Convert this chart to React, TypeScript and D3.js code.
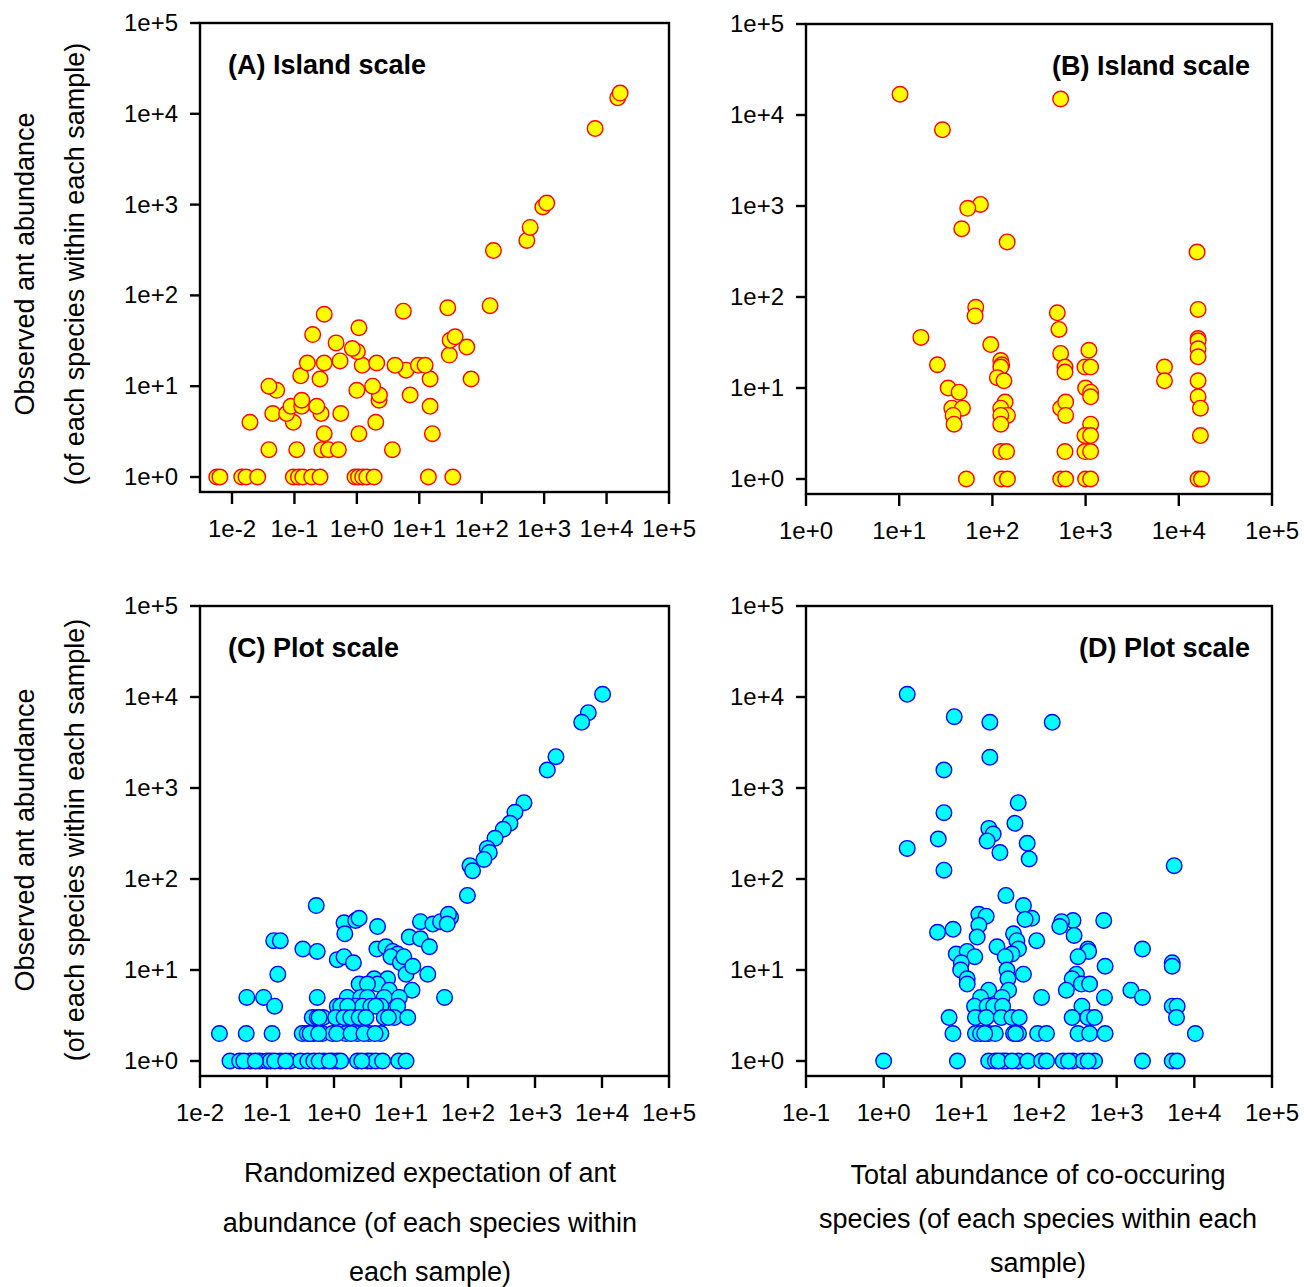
import React from "react";
import * as d3 from "d3";

// [expected or co-occurring abundance, observed abundance]
const islandExpected: [number, number][] = [
  [0.0057, 1], [0.0064, 1], [0.0143, 1], [0.0168, 1], [0.0258, 1], [0.096, 1], [0.116, 1], [0.136, 1],
  [0.189, 1], [0.257, 1], [0.935, 1], [1.06, 1], [1.24, 1], [1.44, 1], [1.89, 1], [14, 1], [34.4, 1],
  [0.039, 2], [0.109, 2], [0.274, 2], [0.35, 2], [0.506, 2], [3.71, 2],
  [0.3, 3], [1.08, 3], [16.2, 3],
  [0.0194, 4], [0.096, 4], [2.01, 4],
  [0.0449, 5], [0.075, 5], [0.267, 5], [0.552, 5],
  [0.088, 6], [0.131, 6], [0.228, 6], [14.9, 6],
  [0.131, 7], [2.27, 7], [2.3, 8], [7.13, 8], [0.052, 9], [1.0, 9], [0.039, 10], [1.79, 10],
  [0.257, 12], [14.9, 12], [67.6, 12], [0.126, 13], [6.14, 15],
  [1.22, 17], [4.09, 17], [9.68, 17], [12.4, 17], [0.161, 18], [0.3, 18], [2.08, 18], [0.538, 19],
  [30.3, 22], [1.02, 24], [0.847, 26], [57.7, 27], [0.465, 30], [31.2, 32], [37.5, 35], [0.196, 37],
  [1.08, 44], [0.3, 62], [5.56, 67], [28.6, 73], [136, 77],
  [154, 312], [528, 403], [597, 561], [953, 942], [1100, 1040], [6560, 6870], [15100, 15000], [16500, 16900],
];

const islandCooccur: [number, number][] = [
  [10.2, 16900], [540, 15000], [29.1, 6870], [74.4, 1040], [54.4, 942], [46.9, 561], [144, 403], [15700, 312],
  [66.3, 77], [65.2, 62], [17.1, 36], [25.7, 18], [33.5, 10], [44, 9], [36.7, 6], [47.7, 6], [37.9, 5],
  [38.8, 4], [52.6, 1], [96, 30],
  [123, 20], [126, 18], [123, 17], [113, 13], [133, 12], [137, 7], [123, 6], [145, 5], [123, 5], [123, 4],
  [123, 2], [142, 2], [126, 1], [145, 1],
  [497, 67], [518, 44], [540, 24], [601, 17], [601, 15], [540, 6], [611, 7], [611, 5], [601, 2], [540, 1], [611, 1],
  [1086, 26], [984, 17], [1132, 17], [1000, 10], [1132, 9], [1132, 8], [1132, 4], [984, 3], [1132, 3],
  [984, 2], [1132, 2], [1000, 1], [1132, 1],
  [7020, 17], [7020, 12],
  [16100, 73], [16100, 35], [16100, 33], [16100, 27], [16100, 22], [16100, 12], [16100, 8], [17060, 6],
  [17060, 3], [16100, 1], [17500, 1],
];

const plotExpected: [number, number][] = [
  [10200, 10700], [6250, 6720], [4980, 5270], [2055, 2210], [1527, 1577], [685, 689], [502, 541], [423, 409],
  [336, 352], [253, 280], [194, 217], [208, 195], [173, 164], [107, 140], [117, 123], [98, 66],
  [13.3, 23], [19.5, 34], [19.5, 22], [26.6, 18], [29.9, 32], [38.9, 34], [55, 38], [51, 41], [49, 32],
  [25.1, 9], [44.7, 5], [14.6, 6],
  [0.543, 51], [1.41, 33], [2.11, 35], [2.37, 37], [4.47, 30], [1.45, 25], [0.126, 21], [0.158, 21],
  [0.343, 17], [0.562, 16], [1.12, 13], [1.41, 14], [1.95, 12], [4.37, 17], [5.96, 18], [7.5, 16],
  [8.91, 15], [7.08, 14], [9.77, 12], [11, 14], [11.9, 9], [15, 11], [0.145, 9],
  [3.98, 8], [6.31, 8], [2.37, 7], [4.47, 7], [3.16, 7], [6.68, 6],
  [0.05, 5], [0.089, 5], [0.562, 5], [1.58, 5], [2.51, 5], [3.16, 5], [5.62, 5], [9.44, 5],
  [0.13, 4], [1.12, 4], [1.26, 4], [2.11, 4], [2.66, 4], [3.55, 4], [5.01, 4], [8.91, 4], [1.6, 4], [4.2, 4],
  [0.473, 3], [0.562, 3], [0.69, 3], [1.06, 3], [1.41, 3], [1.78, 3], [2.37, 3], [5.62, 3], [7.94, 3],
  [12.6, 3], [0.6, 3], [3.0, 3], [6.5, 3],
  [0.0195, 2], [0.049, 2], [0.119, 2], [0.335, 2], [0.398, 2], [0.5, 2], [0.668, 2], [0.944, 2], [1.5, 2],
  [2.24, 2], [3.35, 2], [5.01, 2], [0.44, 2], [0.59, 2], [1.1, 2], [1.8, 2], [2.8, 2], [4.1, 2],
  [0.028, 1], [0.039, 1], [0.056, 1], [0.078, 1], [0.1, 1], [0.112, 1], [0.158, 1], [0.224, 1], [0.316, 1],
  [0.407, 1], [0.5, 1], [0.708, 1], [0.944, 1], [1.12, 1], [1.26, 1], [2.24, 1], [3.16, 1], [3.55, 1],
  [4.22, 1], [5.31, 1], [9.23, 1], [11.9, 1], [0.045, 1], [0.067, 1], [0.13, 1], [0.19, 1], [0.6, 1],
  [0.85, 1], [2.6, 1],
];

const plotCooccur: [number, number][] = [
  [2.01, 10700], [8.1, 6080], [23.3, 5270], [148, 5270], [23.3, 2175], [5.97, 1577], [54, 689], [5.97, 535],
  [49, 409], [22.6, 360], [25.7, 312], [21.5, 262], [5.05, 275], [70.5, 247], [31.4, 195], [74.8, 166],
  [2.01, 217], [5.97, 125], [5500, 140],
  [37.5, 66], [63, 51], [16.8, 41], [20.9, 39], [80.5, 37], [66.2, 36], [274, 35], [682, 35], [195, 34],
  [16.8, 31], [185, 30], [7.83, 28], [4.94, 26], [47, 25], [283, 24], [16, 23], [51.9, 21], [93.4, 21],
  [28.8, 18], [54.4, 17], [426, 17], [2150, 17], [435, 16], [8.6, 15], [11.9, 16], [44.8, 15], [14.9, 14],
  [36.8, 14], [318, 14], [5190, 12], [5190, 11], [10, 12], [710, 11], [9.8, 10], [38.7, 10], [63, 9],
  [303, 9], [39.8, 8], [11.9, 8], [267, 8], [11.9, 7], [351, 7], [448, 7],
  [22.5, 6], [40.6, 6], [225, 6], [1524, 6], [17.7, 5], [33.4, 5], [108, 5], [696, 5], [2150, 5],
  [14.8, 4], [21.5, 4], [26.1, 4], [34, 4], [357, 4], [5190, 4], [6010, 4],
  [6.96, 3], [15.2, 3], [20.9, 3], [32.7, 3], [44.8, 3], [55.6, 3], [267, 3], [426, 3], [519, 3], [5890, 3],
  [7.8, 2], [15.2, 2], [17.7, 2], [22.5, 2], [27.4, 2], [47, 2], [54.4, 2], [96, 2], [125, 2], [318, 2],
  [448, 2], [710, 2], [10300, 2], [20, 2], [50, 2],
  [1, 1], [8.9, 1], [22.5, 1], [27.4, 1], [34, 1], [37.5, 1], [54.4, 1], [71.6, 1], [108, 1], [125, 1],
  [205, 1], [274, 1], [368, 1], [519, 1], [2150, 1], [5190, 1], [6010, 1], [30, 1], [45, 1], [240, 1], [430, 1],
];

const xTicksA = ["1e-2", "1e-1", "1e+0", "1e+1", "1e+2", "1e+3", "1e+4", "1e+5"];
const xTicksB = ["1e+0", "1e+1", "1e+2", "1e+3", "1e+4", "1e+5"];
const xTicksC = ["1e-2", "1e-1", "1e+0", "1e+1", "1e+2", "1e+3", "1e+4", "1e+5"];
const xTicksD = ["1e-1", "1e+0", "1e+1", "1e+2", "1e+3", "1e+4", "1e+5"];
const yTicks = ["1e+0", "1e+1", "1e+2", "1e+3", "1e+4", "1e+5"];

const yTitle = ["Observed ant abundance", "(of each species within each sample)"];
const xTitleLeft = ["Randomized expectation of ant", "abundance (of each species within", "each sample)"];
const xTitleRight = ["Total abundance of co-occuring", "species (of each species within each", "sample)"];

const FONT = "'Liberation Sans', Arial, Helvetica, sans-serif";

type PanelProps = {
  data: [number, number][];
  xTicks: string[];
  left: number;
  firstTick: number;
  right: number;
  top: number;
  base: number;
  bottom: number;
  title: string;
  titleAtRight: boolean;
  fill: string;
  stroke: string;
};

const Panel = (p: PanelProps) => {
  const x = d3.scaleLog()
    .domain([Number(p.xTicks[0]), Number(p.xTicks[p.xTicks.length - 1])])
    .range([p.firstTick, p.right]);
  const y = d3.scaleLog().domain([1, 1e5]).range([p.base, p.top]);

  return (
    <g>
      {/* points */}
      {p.data.map((d, i) => (
        <circle key={i} cx={x(d[0])} cy={y(d[1])} r={7.8}
          fill={p.fill} stroke={p.stroke} strokeWidth={1.4} />
      ))}

      {/* frame */}
      <rect x={p.left} y={p.top} width={p.right - p.left} height={p.bottom - p.top}
        fill="none" stroke="#000" strokeWidth={2.4} />

      {/* y axis */}
      {yTicks.map((t) => (
        <g key={t}>
          <line x1={p.left - 10} x2={p.left} y1={y(Number(t))} y2={y(Number(t))} stroke="#000" strokeWidth={2.4} />
          <text x={p.left - 22} y={y(Number(t)) + 8} textAnchor="end" fontSize={24} fontFamily={FONT}>{t}</text>
        </g>
      ))}

      {/* x axis */}
      {p.xTicks.map((t) => (
        <g key={t}>
          <line x1={x(Number(t))} x2={x(Number(t))} y1={p.bottom} y2={p.bottom + 12} stroke="#000" strokeWidth={2.4} />
          <text x={x(Number(t))} y={p.bottom + 45} textAnchor="middle" fontSize={24} fontFamily={FONT}>{t}</text>
        </g>
      ))}

      <text
        x={p.titleAtRight ? p.right - 22 : p.left + 28}
        y={p.top + 51}
        textAnchor={p.titleAtRight ? "end" : "start"}
        fontSize={27} fontWeight="bold" fontFamily={FONT}
      >
        {p.title}
      </text>
    </g>
  );
};

const YTitle = ({ cy }: { cy: number }) => (
  <g>
    {yTitle.map((line, i) => (
      <text key={i} transform={`translate(${34 + i * 50},${cy}) rotate(-90)`}
        textAnchor="middle" fontSize={27} fontFamily={FONT}>{line}</text>
    ))}
  </g>
);

const XTitle = ({ cx, lines, ys }: { cx: number; lines: string[]; ys: number[] }) => (
  <g>
    {lines.map((line, i) => (
      <text key={i} x={cx} y={ys[i]} textAnchor="middle" fontSize={27} fontFamily={FONT}>{line}</text>
    ))}
  </g>
);

export default function App() {
  return (
    <svg width={1304} height={1287} style={{ position: "absolute", left: 0, top: 0, background: "#fff" }}>
      <Panel data={islandExpected} xTicks={xTicksA} left={200} firstTick={232} right={669}
        top={23} base={477} bottom={492} title="(A) Island scale" titleAtRight={false}
        fill="#FFFF00" stroke="#FF0000" />
      <Panel data={islandCooccur} xTicks={xTicksB} left={806} firstTick={806} right={1272}
        top={24} base={479} bottom={494} title="(B) Island scale" titleAtRight={true}
        fill="#FFFF00" stroke="#FF0000" />
      <Panel data={plotExpected} xTicks={xTicksC} left={200} firstTick={200} right={669}
        top={606} base={1061} bottom={1076} title="(C) Plot scale" titleAtRight={false}
        fill="#00FFFF" stroke="#0000FF" />
      <Panel data={plotCooccur} xTicks={xTicksD} left={806} firstTick={806} right={1272}
        top={606} base={1061} bottom={1076} title="(D) Plot scale" titleAtRight={true}
        fill="#00FFFF" stroke="#0000FF" />

      <YTitle cy={264} />
      <YTitle cy={840} />
      <XTitle cx={430} lines={xTitleLeft} ys={[1182, 1232, 1281]} />
      <XTitle cx={1038} lines={xTitleRight} ys={[1184, 1228, 1272]} />
    </svg>
  );
}
